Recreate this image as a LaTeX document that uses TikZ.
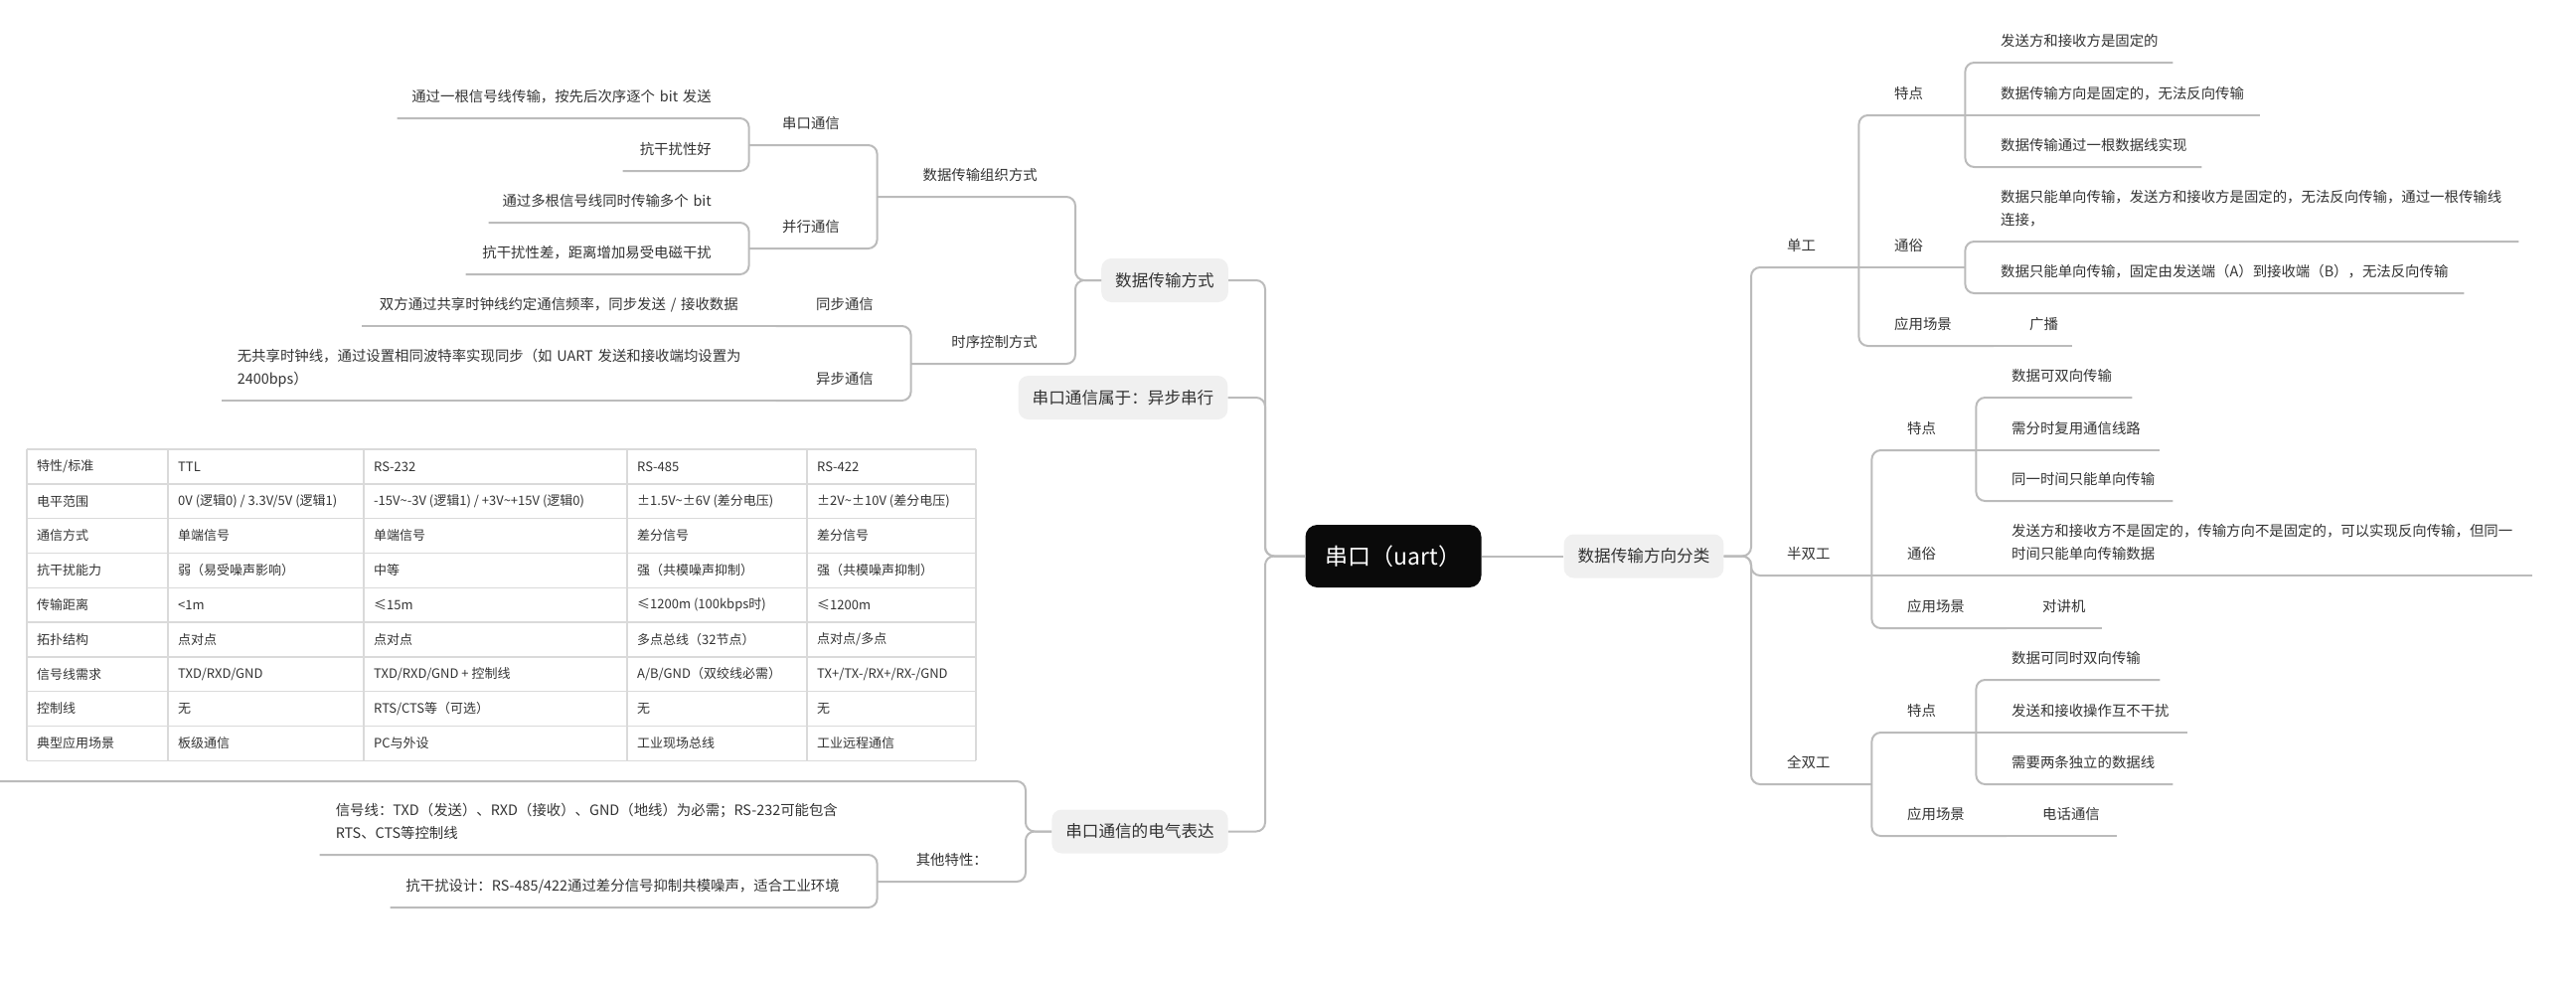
\documentclass[tikz,border=0pt]{standalone}
\usepackage{fontspec}
\setmainfont{Noto Sans CJK SC}
\definecolor{ink}{HTML}{333333}
\definecolor{lnk}{HTML}{BBBBBB}
\definecolor{boxfill}{HTML}{F0F0F0}
\definecolor{rootfill}{HTML}{0A0A0A}
\definecolor{tblline}{HTML}{DADADA}
\newcommand\fsleaf{\fontsize{14.4}{23}\selectfont}
\newcommand\fsbox{\fontsize{16.6}{20}\selectfont}
\newcommand\fsroot{\fontsize{23}{28}\selectfont}
\newcommand\fstab{\fontsize{13}{16}\selectfont}
\newcommand\tabrow[6]{%
 \node[cell](c#1a) at (37,{469.4+34.8*#1}){#2};
 \node[cell](c#1b) at (179,{469.4+34.8*#1}){#3};
 \node[cell](c#1c) at (376,{469.4+34.8*#1}){#4};
 \node[cell](c#1d) at (641,{469.4+34.8*#1}){#5};
 \node[cell](c#1e) at (822,{469.4+34.8*#1}){#6};}

\begin{document}
\begin{tikzpicture}[x=1pt,y=-1pt,
 link/.style={draw=lnk,line width=2pt,rounded corners=9pt},
 rbox/.style={fill=boxfill,rounded corners=10pt,text=ink,font=\fsbox,minimum height=44pt,inner xsep=14pt,inner ysep=0pt},
 rootbox/.style={fill=rootfill,rounded corners=12pt,text=white,font=\fsroot,minimum width=177pt,minimum height=63pt},
 rt/.style={anchor=south west,text width=#1pt,align=left,inner xsep=0pt,inner ysep=9pt,text=ink,font=\fsleaf,
  execute at begin node={\hspace*{36pt}},execute at end node={\strut}},
 lt/.style={anchor=south east,text width=#1pt,align=right,inner xsep=0pt,inner ysep=9pt,text=ink,font=\fsleaf,
  execute at end node={\hspace*{38pt}\strut}},
 ltm/.style={anchor=south east,text width=#1pt,align=left,inner xsep=0pt,inner ysep=9pt,text=ink,font=\fsleaf,
  execute at begin node={\hspace*{16pt}},execute at end node={\strut}},
 cell/.style={anchor=west,inner sep=0pt,text=ink,font=\fstab},
 tblrule/.style={draw=tblline,line width=1.4pt}]
\useasboundingbox (0,0) rectangle (2592,991);

\node[rootbox](root) at (1402,559.5){串口（uart）};
\node[rbox](dir) at (1654,559.5){数据传输方向分类};
\node[rbox](mode) at (1172,282){数据传输方式};
\node[rbox](async) at (1130,400){串口通信属于：异步串行};
\node[rbox](elec) at (1147,836.5){串口通信的电气表达};
\coordinate (rb) at (1762,559.5);
\coordinate (lb) at (1273,559.5);
\coordinate (mb) at (1082,282);
\coordinate (eb) at (1032,836.5);
\coordinate (tbl) at (0,786);

% right: direction
\node[rt=108](sd) at (1762,269){单工};
\node[rt=107](sdtd) at (1870,116){特点};
\node[rt=209](sa1) at (1977,63){发送方和接收方是固定的};
\node[rt=297](sa2) at (1977,116){数据传输方向是固定的，无法反向传输};
\node[rt=238](sa3) at (1977,168){数据传输通过一根数据线实现};
\node[rt=107](sdts) at (1870,269){通俗};
\node[rt=557](sb1) at (1977,243){数据只能单向传输，发送方和接收方是固定的，无法反向传输，通过一根传输线\\\hspace*{36pt}连接，};
\node[rt=502](sb2) at (1977,295){数据只能单向传输，固定由发送端（A）到接收端（B），无法反向传输};
\node[rt=136](sdyy) at (1870,348){应用场景};
\node[rt=79](sc1) at (2006,348){广播};

\node[rt=121](bs) at (1762,579){半双工};
\node[rt=105](bstd) at (1883,453){特点};
\node[rt=157](bsa1) at (1988,400){数据可双向传输};
\node[rt=185](bsa2) at (1988,453){需分时复用通信线路};
\node[rt=198](bsa3) at (1988,504){同一时间只能单向传输};
\node[rt=105](bsts) at (1883,579){通俗};
\node[rt=560](bsb1) at (1988,579){发送方和接收方不是固定的，传输方向不是固定的，可以实现反向传输，但同一\\\hspace*{36pt}时间只能单向传输数据};
\node[rt=136](bsyy) at (1883,632){应用场景};
\node[rt=96](bsc1) at (2019,632){对讲机};

\node[rt=121](qs) at (1762,789){全双工};
\node[rt=105](qstd) at (1883,737){特点};
\node[rt=185](qsa1) at (1988,684){数据可同时双向传输};
\node[rt=213](qsa2) at (1988,737){发送和接收操作互不干扰};
\node[rt=198](qsa3) at (1988,789){需要两条独立的数据线};
\node[rt=136](qsyy) at (1883,841){应用场景};
\node[rt=111](qsc1) at (2019,841){电话通信};

% left: mode
\node[lt=199](org) at (1082,198){数据传输组织方式};
\node[lt=129](serial) at (883,146){串口通信};
\node[lt=354](sl1) at (754,119){通过一根信号线传输，按先后次序逐个 bit 发送};
\node[lt=127](sl2) at (754,172){抗干扰性好};
\node[lt=129](par) at (883,250){并行通信};
\node[lt=262](pl1) at (754,224){通过多根信号线同时传输多个 bit};
\node[lt=285](pl2) at (754,276){抗干扰性差，距离增加易受电磁干扰};
\node[lt=165](timing) at (1082,366){时序控制方式};
\node[lt=136](sync) at (917,328){同步通信};
\node[lt=417](syl) at (781,328){双方通过共享时钟线约定通信频率，同步发送 / 接收数据};
\node[lt=136](asy) at (917,403){异步通信};
\node[ltm=558](asl) at (781,403){无共享时钟线，通过设置相同波特率实现同步（如 UART 发送和接收端均设置为\\\hspace*{16pt}2400bps）};

% left: electrical
\node[lt=149](other) at (1032,887){其他特性：};
\node[ltm=561](el1) at (883,860){信号线：TXD（发送）、RXD（接收）、GND（地线）为必需；RS-232可能包含\\\hspace*{16pt}RTS、CTS等控制线};
\node[lt=490](el2) at (883,913){抗干扰设计：RS-485/422通过差分信号抑制共模噪声，适合工业环境};

\draw[link](root.east)--(dir.west);
\draw[link](dir.east)--(rb)|-(sd.south east);\draw[link](dir.east)--(rb)|-(bs.south east);\draw[link](dir.east)--(rb)|-(qs.south east);
\draw[link](sd.south east)|-(sdtd.south east);\draw[link](sd.south east)--(sdts.south east);\draw[link](sd.south east)|-(sdyy.south east);
\draw[link](sdtd.south east)|-(sa1.south east);\draw[link](sdtd.south east)--(sa2.south east);\draw[link](sdtd.south east)|-(sa3.south east);
\draw[link](sdts.south east)|-(sb1.south east);\draw[link](sdts.south east)|-(sb2.south east);\draw[link](sdyy.south east)--(sc1.south east);
\draw[link](bs.south east)|-(bstd.south east);\draw[link](bs.south east)--(bsts.south east);\draw[link](bs.south east)|-(bsyy.south east);
\draw[link](bstd.south east)|-(bsa1.south east);\draw[link](bstd.south east)--(bsa2.south east);\draw[link](bstd.south east)|-(bsa3.south east);
\draw[link](bsts.south east)--(bsb1.south east);\draw[link](bsyy.south east)--(bsc1.south east);
\draw[link](qs.south east)|-(qstd.south east);\draw[link](qs.south east)|-(qsyy.south east);
\draw[link](qstd.south east)|-(qsa1.south east);\draw[link](qstd.south east)--(qsa2.south east);\draw[link](qstd.south east)|-(qsa3.south east);
\draw[link](qsyy.south east)--(qsc1.south east);

\draw[link](root.west)--(lb)|-(mode.east);\draw[link](root.west)--(lb)|-(async.east);\draw[link](root.west)--(lb)|-(elec.east);
\draw[link](mode.west)--(mb)|-(org.south west);\draw[link](mode.west)--(mb)|-(timing.south west);
\draw[link](org.south west)|-(serial.south west);\draw[link](org.south west)|-(par.south west);
\draw[link](serial.south west)|-(sl1.south west);\draw[link](serial.south west)|-(sl2.south west);
\draw[link](par.south west)|-(pl1.south west);\draw[link](par.south west)|-(pl2.south west);
\draw[link](timing.south west)|-(sync.south west);\draw[link](timing.south west)|-(asy.south west);
\draw[link](sync.south west)--(syl.south west);\draw[link](asy.south west)--(asl.south west);
\draw[link](elec.west)--(eb)|-(tbl);\draw[link](elec.west)--(eb)|-(other.south west);
\draw[link](other.south west)|-(el1.south west);\draw[link](other.south west)|-(el2.south west);

% table
\foreach \x in {27,169,366,631,812,982} \draw[tblrule](\x,452)--(\x,765.2);
\foreach \i in {0,...,9} \draw[tblrule](27,{452+34.8*\i})--(982,{452+34.8*\i});
\tabrow{0}{特性/标准}{TTL}{RS-232}{RS-485}{RS-422}
\tabrow{1}{电平范围}{0V (逻辑0) / 3.3V/5V (逻辑1)}{-15V\textasciitilde-3V (逻辑1) / +3V\textasciitilde+15V (逻辑0)}{±1.5V\textasciitilde±6V (差分电压)}{±2V\textasciitilde±10V (差分电压)}
\tabrow{2}{通信方式}{单端信号}{单端信号}{差分信号}{差分信号}
\tabrow{3}{抗干扰能力}{弱（易受噪声影响）}{中等}{强（共模噪声抑制）}{强（共模噪声抑制）}
\tabrow{4}{传输距离}{<1m}{≤15m}{≤1200m (100kbps时)}{≤1200m}
\tabrow{5}{拓扑结构}{点对点}{点对点}{多点总线（32节点）}{点对点/多点}
\tabrow{6}{信号线需求}{TXD/RXD/GND}{TXD/RXD/GND + 控制线}{A/B/GND（双绞线必需）}{TX+/TX-/RX+/RX-/GND}
\tabrow{7}{控制线}{无}{RTS/CTS等（可选）}{无}{无}
\tabrow{8}{典型应用场景}{板级通信}{PC与外设}{工业现场总线}{工业远程通信}
\end{tikzpicture}
\end{document}
